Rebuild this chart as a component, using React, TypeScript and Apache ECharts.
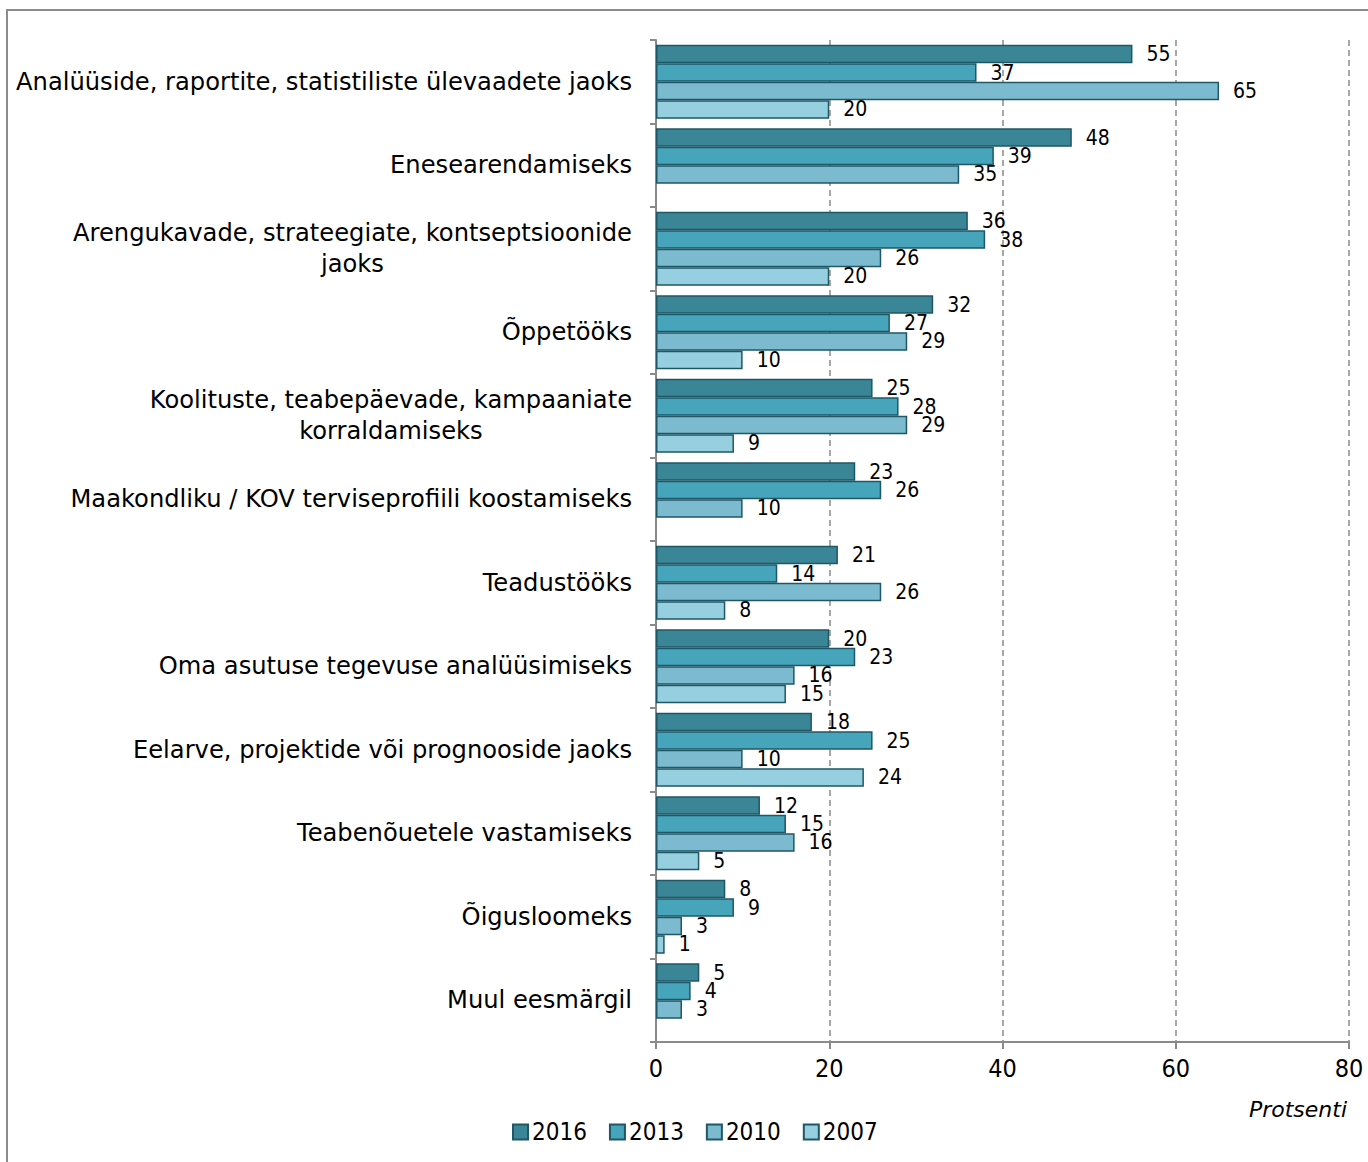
import React, { useEffect, useRef } from "react";
import * as echarts from "echarts";

const categories = [
  "Analüüside, raportite, statistiliste ülevaadete jaoks",
  "Enesearendamiseks",
  "Arengukavade, strateegiate, kontseptsioonide\njaoks",
  "Õppetööks",
  "Koolituste, teabepäevade, kampaaniate\nkorraldamiseks",
  "Maakondliku / KOV terviseprofiili koostamiseks",
  "Teadustööks",
  "Oma asutuse tegevuse analüüsimiseks",
  "Eelarve, projektide või prognooside jaoks",
  "Teabenõuetele vastamiseks",
  "Õigusloomeks",
  "Muul eesmärgil",
];

const seriesNames = ["2016", "2013", "2010", "2007"];

const values2016 = [55, 48, 36, 32, 25, 23, 21, 20, 18, 12, 8, 5];
const values2013 = [37, 39, 38, 27, 28, 26, 14, 23, 25, 15, 9, 4];
const values2010 = [65, 35, 26, 29, 29, 10, 26, 16, 10, 16, 3, 3];
const values2007: (number | string)[] = [20, "-", 20, 10, 9, "-", 8, 15, 24, 5, 1, "-"];

const xTicks = [0, 20, 40, 60, 80];

const colors = ["#3a8596", "#46a4bb", "#7cbbcf", "#96cfe0"];
const borderColor = "#1f5767";
const FONT = "'DejaVu Sans Condensed', 'DejaVu Sans', sans-serif";
const FONT_WIDE = "'DejaVu Sans', sans-serif";

export default function App() {
  const ref = useRef<HTMLDivElement>(null);

  useEffect(() => {
    if (!ref.current) return;
    const chart = echarts.init(ref.current, undefined, { renderer: "svg" });
    const allValues = [values2016, values2013, values2010, values2007];

    const option: any = {
      animation: false,
      backgroundColor: "#ffffff",
      textStyle: { fontFamily: FONT },
      grid: { left: 656, right: 19, top: 40, bottom: 120, containLabel: false },
      legend: {
        data: seriesNames,
        left: 507,
        top: 1115,
        itemWidth: 15,
        itemHeight: 15,
        itemGap: 22,
        icon: "rect",
        textStyle: { fontSize: 24, color: "#000", fontFamily: FONT, padding: [0, 0, 0, -1] },
      },
      xAxis: {
        type: "value",
        min: xTicks[0],
        max: xTicks[xTicks.length - 1],
        interval: 20,
        axisLine: { show: true, lineStyle: { color: "#8a8a8a", width: 2 } },
        axisTick: { show: true, length: 7, lineStyle: { color: "#8a8a8a", width: 2 } },
        axisLabel: { fontSize: 25, color: "#000", margin: 14, fontFamily: FONT },
        splitLine: {
          show: true,
          lineStyle: { color: "#8a8a8a", width: 1.5, type: [6, 4] },
        },
      },
      yAxis: {
        type: "category",
        inverse: true,
        data: categories,
        axisLine: { show: true, lineStyle: { color: "#8a8a8a", width: 2 } },
        axisTick: { show: true, length: 6, lineStyle: { color: "#8a8a8a", width: 2 } },
        axisLabel: {
          margin: 24,
          align: "right",
          formatter: (v: string) =>
            v
              .split("\n")
              .map((l) => "{c|" + l + "}")
              .join("\n"),
          rich: {
            c: {
              align: "center",
              fontSize: 24.2,
              color: "#000",
              fontFamily: FONT_WIDE,
              lineHeight: 31,
            },
          },
        },
        splitLine: { show: false },
      },
      graphic: [
        {
          type: "rect",
          shape: { x: 7, y: 10, width: 1500, height: 1300 },
          style: { fill: "none", stroke: "#8c8c8c", lineWidth: 2 },
          silent: true,
          z: -10,
        },
        {
          type: "text",
          right: 21,
          top: 1098,
          style: {
            text: "Protsenti",
            fontSize: 22,
            fontStyle: "italic",
            fontFamily: FONT_WIDE,
            fill: "#000",
          },
        },
      ],
      series: seriesNames.map((name, i) => ({
        name,
        type: "bar",
        data: allValues[i],
        barGap: "0%",
        barCategoryGap: "11.4%",
        itemStyle: { color: colors[i], borderColor, borderWidth: 1.5 },
        label: {
          show: true,
          position: "right",
          distance: 14,
          fontSize: 21,
          color: "#000",
          fontFamily: FONT,
        },
      })),
    };

    chart.setOption(option);
    return () => chart.dispose();
  }, []);

  return (
    <div
      ref={ref}
      style={{ position: "fixed", left: 0, top: 0, width: 1368, height: 1162 }}
    />
  );
}
